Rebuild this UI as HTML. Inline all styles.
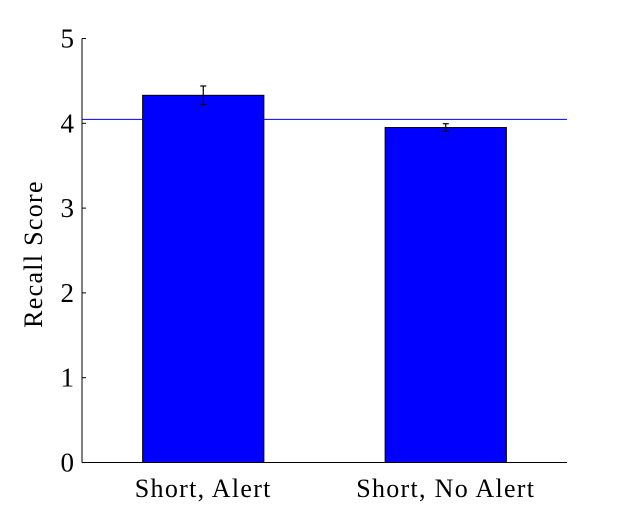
<!DOCTYPE html>
<html><head><meta charset="utf-8"><style>
body{margin:0;background:#fff}
text{font-family:"Liberation Serif","DejaVu Serif",serif;fill:#000}
</style></head><body>
<svg id="chart" width="625" height="520" xmlns="http://www.w3.org/2000/svg"></svg>
<script>
const categories=["Short, Alert","Short, No Alert"];
const values=[4.33,3.95];
const errors=[0.11,0.045];
const yTicks=[0,1,2,3,4,5];
const refLine=[4.047];
const svg=document.getElementById('chart');
const NS='http://www.w3.org/2000/svg';
const x0=82,x1=567,yb=462.5,yt=38.5;
const yS=v=>yb-(v/5)*(yb-yt);
const xS=i=>x0+(i+0.5)*(x1-x0)/categories.length;
const bw=(x1-x0)/categories.length*0.5;
function mk(t,a,p){const e=document.createElementNS(NS,t);for(const k in a)e.setAttribute(k,a[k]);(p||svg).appendChild(e);return e;}
categories.forEach((c,i)=>{
 const r=mk('rect',{x:xS(i)-bw/2,y:yS(values[i]),width:bw,height:yb-yS(values[i]),fill:'#0000ff',stroke:'#000','stroke-width':1});
 
 
 const g=mk('g',{stroke:'#000','stroke-width':1.2});
 
 
 const cx=xS(i),hi=yS(values[i]+errors[i]),lo=yS(values[i]-errors[i]);
 mk('line',{x1:cx,x2:cx,y1:hi,y2:lo},g);
 mk('line',{x1:cx-3,x2:cx+3,y1:hi,y2:hi},g);
 mk('line',{x1:cx-3,x2:cx+3,y1:lo,y2:lo},g);
 const t=mk('text',{x:cx,y:497,'text-anchor':'middle','font-size':26,'letter-spacing':1.3});
 t.textContent=c;
 
 
});
refLine.forEach(v=>{
 const l=mk('line',{x1:x0,x2:x1,y1:yS(v),y2:yS(v),stroke:'#0000ff','stroke-width':1});
 
 
});
const ax=mk('g',{stroke:'#000','stroke-width':1});


mk('line',{x1:x0,x2:x0,y1:yt,y2:yb},ax);
mk('line',{x1:x0,x2:x1,y1:yb,y2:yb},ax);
yTicks.forEach(v=>{
 mk('line',{x1:x0,x2:x0+4,y1:yS(v),y2:yS(v)},ax);
 const t=mk('text',{x:74,y:yS(v)+9,'text-anchor':'end','font-size':27});
 t.textContent=v;
 
 
});
const yl=mk('text',{x:0,y:0,'text-anchor':'middle','font-size':26,'letter-spacing':1.3,transform:'translate(42,254) rotate(-90)'});
yl.textContent='Recall Score';


</script>
</body></html>
